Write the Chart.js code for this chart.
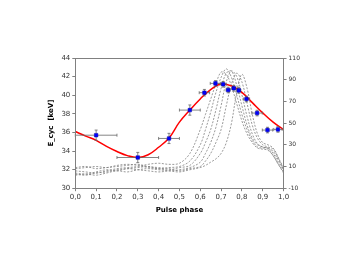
<!DOCTYPE html>
<html><head><meta charset="utf-8">
<script src="https://cdn.jsdelivr.net/npm/chart.js@4/dist/chart.umd.min.js"></script>
<style>html,body{margin:0;padding:0;background:#fff}#wrap{width:359px;height:254px}</style>
</head><body><div id="wrap"><canvas id="c" width="359" height="254"></canvas></div>
<script>
// E_cyc measurements
const pointPhase = [0.1,0.3,0.45,0.55,0.62,0.673,0.71,0.734,0.761,0.785,0.822,0.873,0.923,0.973];
const pointEcyc  = [35.7,33.3,35.35,38.4,40.27,41.27,41.17,40.56,40.74,40.52,39.59,38.08,36.25,36.32];
const phaseErr   = [0.1,0.1,0.05,0.05,0.025,0.025,0.015,0.01,0.01,0.01,0.015,0.025,0.025,0.02];
const ecycErr    = [0.55,0.55,0.55,0.55,0.35,0.3,0.3,0.3,0.3,0.3,0.3,0.3,0.3,0.3];
// fitted curve
const fitPhase = [0,0.05,0.1,0.15,0.2,0.25,0.3,0.35,0.4,0.45,0.5,0.55,0.6,0.65,0.7,0.75,0.8,0.85,0.9,0.95,1.0];
const fitEcyc  = [36.1,35.6,35.15,34.5,33.95,33.5,33.3,33.6,34.4,35.4,37.1,38.4,39.6,40.6,41.2,41.0,40.3,39.2,38.1,37.1,36.3];
// pulse profiles (right axis)
const profPhase = [0,0.05,0.1,0.15,0.2,0.25,0.3,0.35,0.4,0.45,0.5,0.55,0.6,0.625,0.65,0.675,0.7,0.725,0.75,0.775,0.8,0.825,0.85,0.875,0.9,0.925,0.95,0.975,1.0];
const profile1 = [6,5,4,6,8,9,10,12,13,12,13,22,44,58,72,86,97,95,84,68,52,40,32,27,26,25,20,12,5];
const profile2 = [3,2,4,5,7,8,9,10,8,9,10,15,30,44,60,78,92,100,92,76,58,44,34,28,27,27,22,14,7];
const profile3 = [8,9,10,9,11,12,11,9,8,7,9,11,22,32,44,62,82,96,98,85,66,48,36,30,28,26,20,12,4];
const profile4 = [4,3,5,7,6,8,7,6,5,6,7,9,14,22,32,46,66,88,98,93,76,56,40,31,28,27,24,16,8];
const profile5 = [9,10,8,9,10,11,12,10,9,8,6,8,10,15,22,32,44,66,86,96,88,68,48,36,30,28,26,18,9];
const profile6 = [2,3,2,4,6,5,7,8,7,6,5,7,9,11,14,17,22,32,50,78,95,82,58,40,32,30,27,18,6];
const xTicks = [0,0.1,0.2,0.3,0.4,0.5,0.6,0.7,0.8,0.9,1.0];

const pts = (xs, ys) => xs.map((x,i)=>({x:x,y:ys[i]}));
const profiles = [profile1,profile2,profile3,profile4,profile5,profile6];
const FONT = "'DejaVu Sans', Verdana, sans-serif";

const datasets = [];
datasets.push({type:'scatter', label:'meas', data: pts(pointPhase, pointEcyc), yAxisID:'y',
  pointStyle:'rect', pointRadius:2.5, backgroundColor:'#0000ff', borderColor:'#0000aa', borderWidth:0.5, showLine:false, order:0});
datasets.push({type:'line', label:'fit', data: pts(fitPhase, fitEcyc), yAxisID:'y',
  borderColor:'#ff0000', borderWidth:1.5, pointRadius:0, tension:0.4, fill:false, order:1});
profiles.forEach((p,k)=>datasets.push({type:'line', label:'p'+k, data: pts(profPhase,p), yAxisID:'y2',
  borderColor:'#808080', borderWidth:0.8, borderDash:[2,1.5], pointRadius:0, tension:0.35, fill:false, order:2+k}));

const errPlugin = {
  id:'err',
  beforeDatasetDraw(chart, args){
    if(args.index!==0) return;
    const ctx=chart.ctx, xs=chart.scales.x, ys=chart.scales.y;
    ctx.save(); ctx.strokeStyle='#666'; ctx.lineWidth=0.8;
    pointPhase.forEach((p,i)=>{
      const x=xs.getPixelForValue(p), y=ys.getPixelForValue(pointEcyc[i]);
      const x1=xs.getPixelForValue(p-phaseErr[i]), x2=xs.getPixelForValue(p+phaseErr[i]);
      const y1=ys.getPixelForValue(pointEcyc[i]-ecycErr[i]), y2=ys.getPixelForValue(pointEcyc[i]+ecycErr[i]);
      ctx.beginPath();
      ctx.moveTo(x1,y); ctx.lineTo(x2,y);
      ctx.moveTo(x1,y-1.5); ctx.lineTo(x1,y+1.5);
      ctx.moveTo(x2,y-1.5); ctx.lineTo(x2,y+1.5);
      ctx.moveTo(x,y1); ctx.lineTo(x,y2);
      ctx.moveTo(x-1.5,y1); ctx.lineTo(x+1.5,y1);
      ctx.moveTo(x-1.5,y2); ctx.lineTo(x+1.5,y2);
      ctx.stroke();
    });
    ctx.restore();
  }
};
const framePlugin = {
  id:'frame',
  afterDraw(chart){
    const a=chart.chartArea, ctx=chart.ctx;
    ctx.save(); ctx.strokeStyle='#808080'; ctx.lineWidth=1;
    ctx.strokeRect(Math.round(a.left)+0.5, Math.round(a.top)+0.5, Math.round(a.right-a.left), Math.round(a.bottom-a.top));
    ctx.restore();
  }
};

new Chart(document.getElementById('c'), {
  data:{datasets},
  options:{
    responsive:false, animation:false, devicePixelRatio:1,
    layout:{padding:{left:43, right:57, top:58, bottom:36}},
    plugins:{legend:{display:false}, tooltip:{enabled:false}},
    scales:{
      x:{type:'linear', min:0, max:1,
        afterBuildTicks(s){ s.ticks = xTicks.map(v=>({value:v})); },
        ticks:{font:{family:FONT,size:7}, color:'#333', padding:2, maxRotation:0,
          callback:v=>v.toFixed(1).replace('.',',')},
        grid:{drawOnChartArea:false, drawTicks:true, tickLength:3, color:'#808080'},
        border:{color:'#808080'},
        title:{display:true, text:'Pulse phase', font:{family:FONT,size:7,weight:'bold'}, color:'#000', padding:{top:2}}},
      y:{type:'linear', position:'left', min:30, max:44,
        ticks:{stepSize:2, font:{family:FONT,size:7}, color:'#333', padding:2},
        grid:{drawOnChartArea:false, drawTicks:true, tickLength:3, color:'#808080'},
        border:{color:'#808080'},
        title:{display:true, text:'E_cyc  [keV]', font:{family:FONT,size:7,weight:'bold'}, color:'#000', padding:{bottom:4}}},
      y2:{type:'linear', position:'right', min:-10, max:110,
        ticks:{stepSize:20, font:{family:FONT,size:6}, color:'#333', padding:2},
        grid:{drawOnChartArea:false, drawTicks:true, tickLength:3, color:'#808080'},
        border:{color:'#808080'}}
    }
  },
  plugins:[errPlugin, framePlugin]
});
</script></body></html>
